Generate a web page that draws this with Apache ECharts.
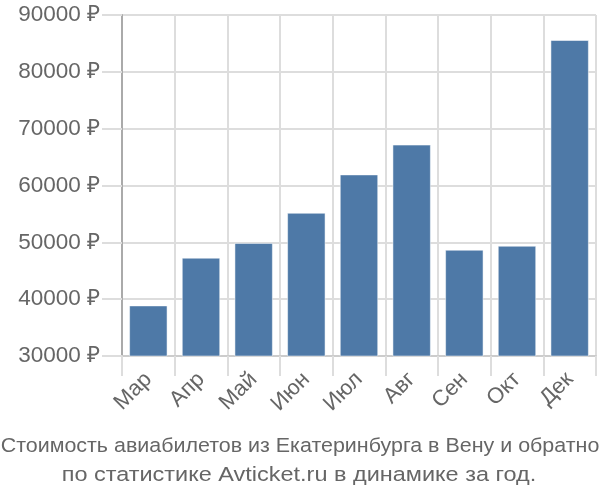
<!DOCTYPE html>
<html><head><meta charset="utf-8">
<script src="https://cdn.jsdelivr.net/npm/echarts@6/dist/echarts.min.js"></script>
<style>html,body{margin:0;padding:0;background:#fff}#c{width:600px;height:500px}</style>
</head><body><div id="c"></div>
<script>
const categories = ['Мар','Апр','Май','Июн','Июл','Авг','Сен','Окт','Дек'];
const values = [38900, 47300, 49900, 55200, 61950, 67200, 48700, 49400, 85600];
const yTicks = [30000, 40000, 50000, 60000, 70000, 80000, 90000];
const titleLines = ['Стоимость авиабилетов из Екатеринбурга в Вену и обратно','по статистике Avticket.ru в динамике за год.'];

const titleFont = 'normal 20.5px "Liberation Sans", Arial, sans-serif';
const chart = echarts.init(document.getElementById('c'), null, {renderer:'canvas'});
chart.setOption({
  animation:false,
  backgroundColor:'#fff',
  graphic:[
    {type:'text', x:300, y:446.5, scaleX:1.046, style:{text:titleLines[0], x:0, y:0, align:'center', verticalAlign:'middle', font:titleFont, fill:'#666'}},
    {type:'text', x:299, y:475, scaleX:1.145, style:{text:titleLines[1], x:0, y:0, align:'center', verticalAlign:'middle', font:titleFont, fill:'#666'}}
  ],
  grid:{left:122, right:4, top:15, bottom:144, containLabel:false},
  xAxis:{type:'category', data:categories, boundaryGap:true,
    axisLine:{show:true, lineStyle:{color:'#ccc', width:2}},
    axisTick:{show:true, length:20, interval:0, lineStyle:{color:'#ddd', width:2}},
    splitLine:{show:true, interval:0, lineStyle:{color:'#ddd', width:2}},
    axisLabel:{rotate:45, margin:20, interval:0, fontFamily:'Liberation Sans', fontSize:22, color:'#666'}},
  yAxis:{type:'value', min:yTicks[0], max:yTicks[yTicks.length-1], interval:10000,
    axisLine:{show:true, lineStyle:{color:'#aaa', width:2}},
    axisTick:{show:true, length:20, lineStyle:{color:'#ddd', width:2}},
    splitLine:{show:true, lineStyle:{color:'#ddd', width:2}},
    axisLabel:{margin:22, fontFamily:'Liberation Sans', fontSize:22.5, color:'#666', formatter:v=>v+' ₽'}},
  series:[{type:'bar', data:values, barCategoryGap:'27%',
    itemStyle:{color:'#4e79a7', borderColor:'rgba(255,255,255,0.5)', borderWidth:1}}]
});
</script></body></html>
